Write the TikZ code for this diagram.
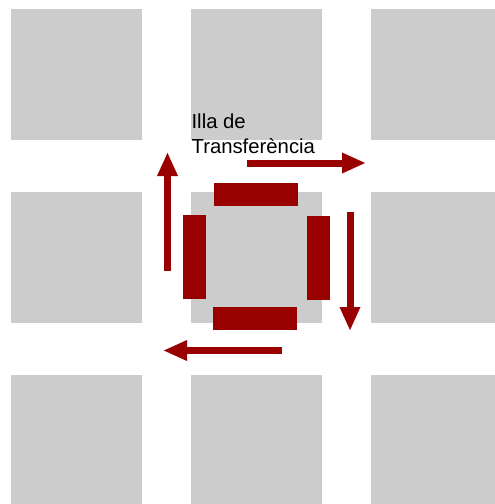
\documentclass[tikz,border=0pt]{standalone}
\usepackage{fontspec}
\setmainfont{Liberation Sans}
\usetikzlibrary{arrows.meta}
\definecolor{blockgray}{HTML}{CCCCCC}
\definecolor{dockred}{HTML}{990000}
\tikzset{
  block/.style={fill=blockgray},
  dock bar/.style={fill=dockred},
  loop arrow/.style={dockred,line width=7pt,-{Triangle[length=24pt,width=19pt]}},
}

\begin{document}
\begin{tikzpicture}[x=1pt,y=-1pt]
  \useasboundingbox (0,0) rectangle (495,504);
  % city blocks
  \foreach \bx in {11,191,371}
    \foreach \by in {9,192,375}
      \fill[block] (\bx,\by) rectangle ++(131,131);
  % docks round the middle block
  \fill[dock bar] (214,183) rectangle (298,206);
  \fill[dock bar] (183,215) rectangle (206,299);
  \fill[dock bar] (307,216) rectangle (330,300);
  \fill[dock bar] (213,307) rectangle (297,330);
  \node[anchor=north west,inner sep=0pt,align=left,
        font=\fontsize{20.3}{25}\selectfont] (label) at (191.4,113.5)
        {Illa de\\Transferència};
  % traffic round the block
  \coordinate (w1) at (167.5,271); \coordinate (w2) at (167.5,152);
  \coordinate (n1) at (247,163);   \coordinate (n2) at (366,163);
  \coordinate (e1) at (350,212);   \coordinate (e2) at (350,331);
  \coordinate (s1) at (282,350.5); \coordinate (s2) at (163,350.5);
  \draw[loop arrow] (w1) -- (w2);
  \draw[loop arrow] (n1) -- (n2);
  \draw[loop arrow] (e1) -- (e2);
  \draw[loop arrow] (s1) -- (s2);
\end{tikzpicture}
\end{document}
